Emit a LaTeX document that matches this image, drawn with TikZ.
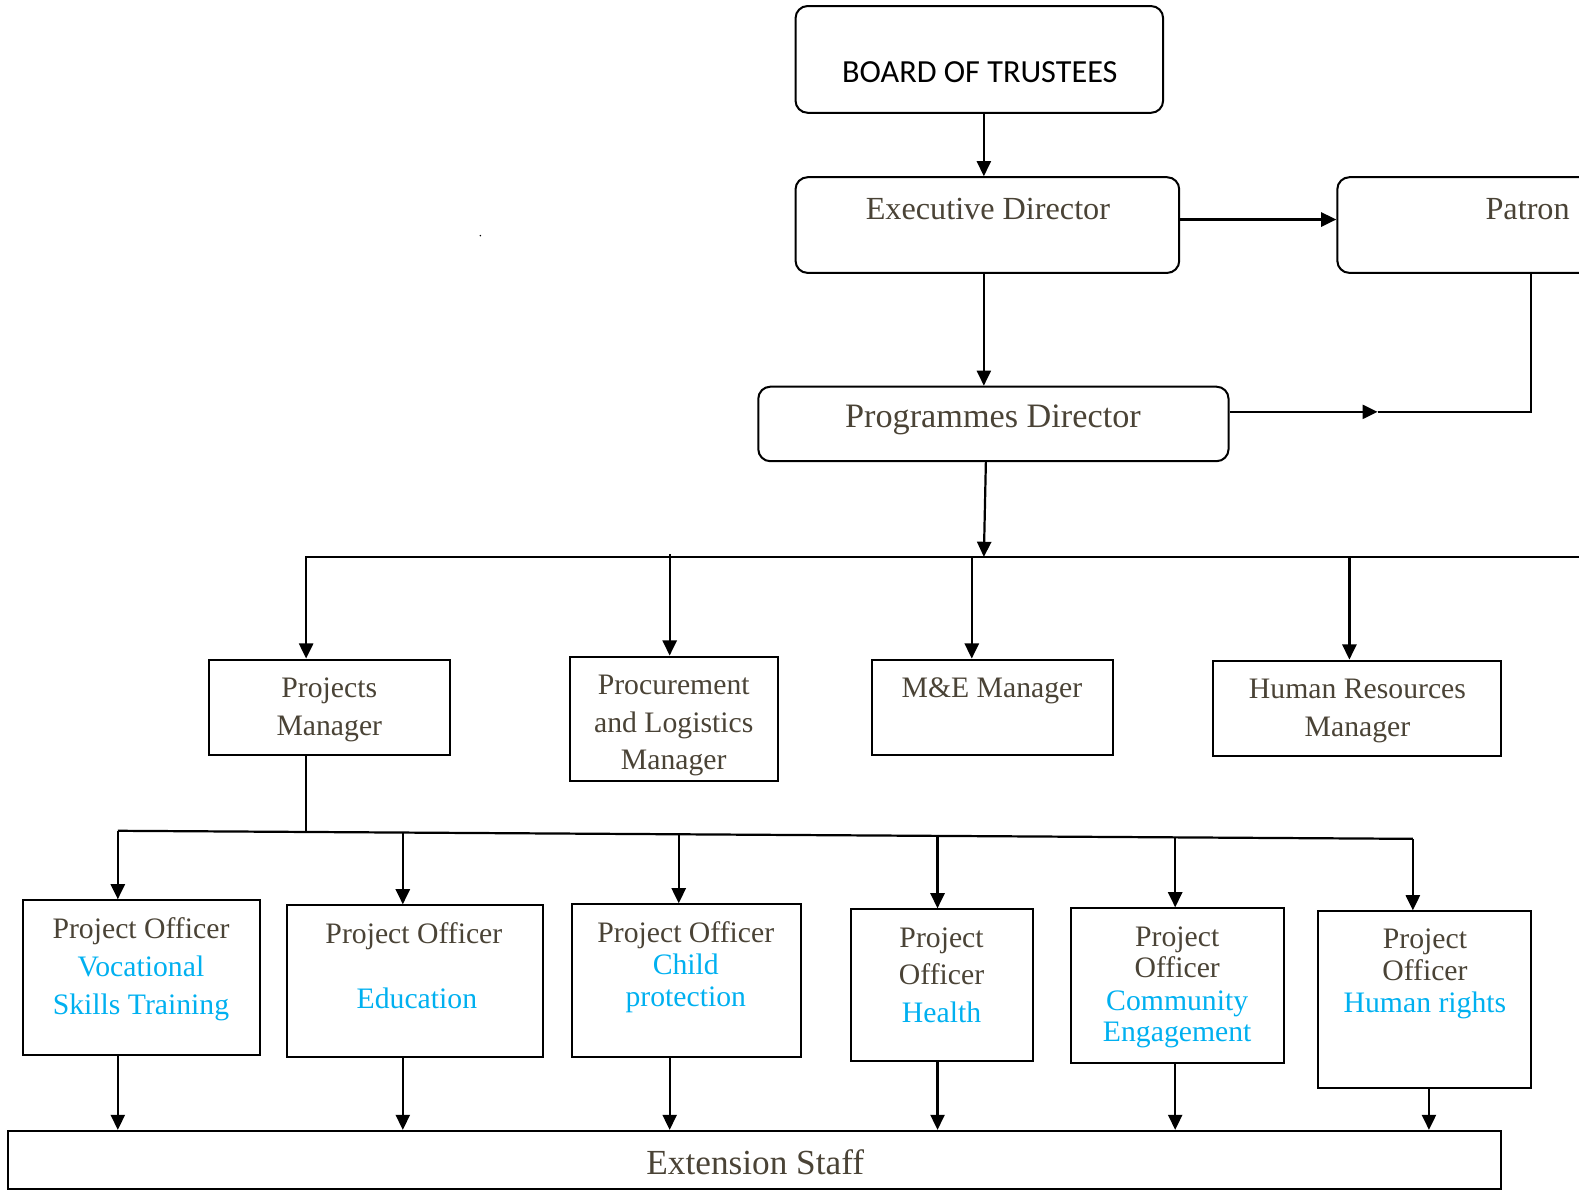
\documentclass[tikz,border=0pt]{standalone}
\usepackage{fontspec}
\setmainfont{Liberation Serif}
\newfontfamily\boardfont{Carlito}
\usetikzlibrary{arrows.meta}
\definecolor{txtc}{HTML}{4A4336}
\definecolor{bluec}{HTML}{00B0F0}
\tikzset{
  box/.style={draw, line width=2pt, inner sep=0pt},
  rbox/.style={box, rounded corners=12pt},
  txt/.style={anchor=base, inner sep=0pt, text=txtc, font=\fontsize{29.5}{35}\selectfont},
  big/.style={txt, font=\fontsize{32}{38}\selectfont},
  blu/.style={txt, text=bluec},
  arr/.style={line width=2.2pt, -{Triangle[length=15pt,width=14pt]}},
  ln/.style={line width=2.2pt}
}
\begin{document}
\begin{tikzpicture}[x=1pt,y=-1pt]
\useasboundingbox (0,0) rectangle (1568,1185);
\clip (0,0) rectangle (1568,1185);
% boxes
\node[rbox, minimum width=365pt, minimum height=106pt] (board) at (972.5,59) {};
\node[rbox, minimum width=381pt, minimum height=95pt] (exec) at (980.5,223.5) {};
\node[rbox, minimum width=381pt, minimum height=95pt] (patron) at (1518.5,223.5) {};
\node[rbox, minimum width=467pt, minimum height=74pt] (pd) at (986.5,421) {};
\node[box, minimum width=239pt, minimum height=95pt] (pm) at (327.5,702.5) {};
\node[box, minimum width=207pt, minimum height=124pt] (proc) at (669.5,714) {};
\node[box, minimum width=239pt, minimum height=95pt] (me) at (985.5,702.5) {};
\node[box, minimum width=286pt, minimum height=95pt] (hr) at (1348,703.5) {};
\node[box, minimum width=235pt, minimum height=154pt] (po1) at (140.5,971) {};
\node[box, minimum width=254pt, minimum height=151pt] (po2) at (412,974.5) {};
\node[box, minimum width=227pt, minimum height=152pt] (po3) at (681.5,974) {};
\node[box, minimum width=181pt, minimum height=151pt] (po4) at (935.5,978.5) {};
\node[box, minimum width=211pt, minimum height=154pt] (po5) at (1169.5,979) {};
\node[box, minimum width=211pt, minimum height=175pt] (po6) at (1414.5,992.5) {};
\node[box, minimum width=1483pt, minimum height=58pt] (ext) at (749.5,1152) {};
% texts
\node[anchor=base, inner sep=0pt, font=\boardfont\fontsize{32}{38}\selectfont] (t-board) at (973,81.5) {BOARD OF TRUSTEES};
\node[big] (t-exec) at (981,218) {Executive Director};
\node[big, anchor=base west] (t-patron) at (1475,218) {Patron};
\node[big, font=\fontsize{34}{40}\selectfont] (t-pd) at (986,425) {Programmes Director};
\node[txt] (t-pm1) at (327,693) {Projects};
\node[txt] (t-pm2) at (327,730) {Manager};
\node[txt] (t-proc1) at (669,690) {Procurement};
\node[txt] (t-proc2) at (669,727) {and Logistics};
\node[txt] (t-proc3) at (669,764) {Manager};
\node[txt] (t-me) at (985,693) {M\&E Manager};
\node[txt] (t-hr1) at (1348,694) {Human Resources};
\node[txt] (t-hr2) at (1348,731) {Manager};
\node[txt] (t-po1a) at (140,932) {Project Officer};
\node[blu] (t-po1b) at (140,970) {Vocational};
\node[blu] (t-po1c) at (140,1007) {Skills Training};
\node[txt] (t-po2a) at (411,937) {Project Officer};
\node[blu] (t-po2b) at (414,1001) {Education};
\node[txt] (t-po3a) at (681,936) {Project Officer};
\node[blu] (t-po3b) at (681,968) {Child};
\node[blu] (t-po3c) at (681,999) {protection};
\node[txt] (t-po4a) at (935,941) {Project};
\node[txt] (t-po4b) at (935,978) {Officer};
\node[blu] (t-po4c) at (935,1015) {Health};
\node[txt] (t-po5a) at (1169,940) {Project};
\node[txt] (t-po5b) at (1169,971) {Officer};
\node[blu] (t-po5c) at (1169,1003) {Community};
\node[blu] (t-po5d) at (1169,1034) {Engagement};
\node[txt] (t-po6a) at (1415,942) {Project};
\node[txt] (t-po6b) at (1415,974) {Officer};
\node[blu] (t-po6c) at (1415,1005) {Human rights};
\node[anchor=base, inner sep=0pt, text=txtc, font=\fontsize{35}{41}\selectfont] (t-ext) at (750,1166) {Extension Staff};
\fill (477,234) circle (0.8pt);
% coordinates
\coordinate (pj) at (1368,409);
\coordinate (pc) at (1520,409);
\coordinate (bus) at (977,553);
\coordinate (busL) at (303,553);
\coordinate (busR) at (1600,553);
\coordinate (b1) at (304,553);
\coordinate (b2) at (665,550);
\coordinate (b3) at (965,553);
\coordinate (b4) at (1340,553);
\coordinate (c0) at (304,826);
\coordinate (d1) at (117,825);
\coordinate (d2) at (400,827);
\coordinate (d3) at (674,827);
\coordinate (d4) at (931,829);
\coordinate (d5) at (1167,831);
\coordinate (d6) at (1403,833);
\coordinate (f1) at (117,1100);
\coordinate (f2) at (400,1100);
\coordinate (f3) at (665,1100);
\coordinate (f4) at (931,1100);
\coordinate (f5) at (1167,1100);
\coordinate (f6) at (1419,1100);
% connectors
\draw[arr] ([xshift=4.5pt]board.south) -- ([xshift=-3.5pt]exec.north);
\draw[arr] ([yshift=5.5pt]exec.east) -- ([yshift=5.5pt]patron.west);
\draw[arr] ([xshift=-3.5pt]exec.south) -- ([xshift=-9.5pt]pd.north);
\draw[arr] ([yshift=12pt]pd.east) -- (pj);
\draw[ln] (pj) -- (pc) -- (pc |- patron.south);
\draw[arr] ([xshift=-7.5pt]pd.south) -- (bus);
\draw[ln] (busL) -- (busR);
\draw[arr] (b1) -- (b1 |- pm.north);
\draw[arr] (b2) -- (b2 |- proc.north);
\draw[arr] (b3) -- (b3 |- me.north);
\draw[arr] (b4) -- (b4 |- hr.north);
\draw[ln] (c0 |- pm.south) -- (c0);
\draw[ln] (d1) -- (d6);
\draw[arr] (d1) -- (d1 |- po1.north);
\draw[arr] (d2) -- (d2 |- po2.north);
\draw[arr] (d3) -- (d3 |- po3.north);
\draw[arr] (d4) -- (d4 |- po4.north);
\draw[arr] (d5) -- (d5 |- po5.north);
\draw[arr] (d6) -- (d6 |- po6.north);
\draw[arr] (f1 |- po1.south) -- (f1 |- ext.north);
\draw[arr] (f2 |- po2.south) -- (f2 |- ext.north);
\draw[arr] (f3 |- po3.south) -- (f3 |- ext.north);
\draw[arr] (f4 |- po4.south) -- (f4 |- ext.north);
\draw[arr] (f5 |- po5.south) -- (f5 |- ext.north);
\draw[arr] (f6 |- po6.south) -- (f6 |- ext.north);
\end{tikzpicture}
\end{document}
